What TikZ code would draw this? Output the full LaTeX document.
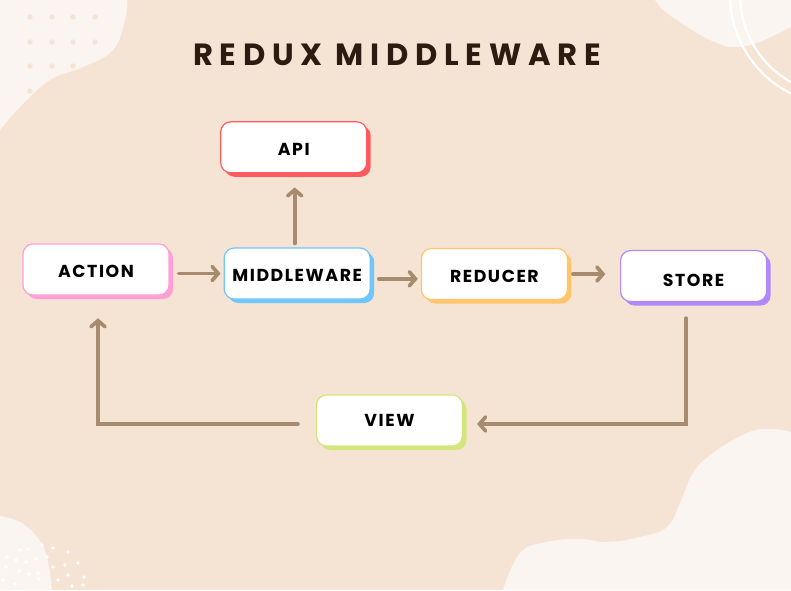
\documentclass[tikz,border=0pt]{standalone}
\usepackage{fontspec}
\newfontfamily\boxfont{Poppins}[LetterSpace=9]
\newfontfamily\headfont{Poppins}[LetterSpace=22]
\usetikzlibrary{shapes,arrows.meta,shadows,positioning}

\definecolor{sand}{HTML}{F5E4D4}
\definecolor{cream}{HTML}{FAF5F0}
\definecolor{cocoa}{HTML}{A68B6F}
\definecolor{ink}{HTML}{2B1B10}
\definecolor{apired}{HTML}{FF5A5F}
\definecolor{actpink}{HTML}{FF9FD6}
\definecolor{midblue}{HTML}{70C6FA}
\definecolor{redorange}{HTML}{FFC56B}
\definecolor{storepurple}{HTML}{B088F7}
\definecolor{viewlime}{HTML}{D3E67C}

\tikzset{
  box/.style={rectangle, rounded corners=7.5pt, draw=#1, fill=white, line width=0.9pt,
    minimum width=109.5pt, minimum height=38.25pt, inner sep=0pt,
    text height=12pt, text depth=0pt,
    drop shadow={shadow xshift=3pt, shadow yshift=-3pt, fill=#1, opacity=1},
    font=\boxfont\bfseries\fontsize{13}{15}\selectfont, text=black},
  flow/.style={draw=cocoa, line width=2.8pt, line cap=round,
    -{Straight Barb[length=4.5pt, width=10.5pt, line cap=round]}}
}

\begin{document}
\begin{tikzpicture}[x=0.75pt,y=-0.75pt,node distance=40pt]
\useasboundingbox (0,0) rectangle (791,590);
\fill[sand] (0,0) rectangle (791,590);

% background shapes
\fill[cream] plot[smooth, tension=0.7] coordinates {(127,0) (125,20) (113,50) (83,67) (50,80) (20,107) (0,130)} -- (0,0) -- cycle;
\foreach \x in {30,52,73,95}
  \foreach \y in {17,42,66,91}
    \fill[sand] (\x,\y) circle[radius=2pt];
\fill[cream] plot[smooth, tension=0.7] coordinates {(655,0) (667,13) (697,33) (717,43) (733,47) (757,43) (791,27)} -- (791,0) -- cycle;
\begin{scope}
\clip (0,0) rectangle (791,590);
\draw[white, line width=1.6pt] (840,-5) circle[radius=75pt];
\draw[white, line width=1.6pt] (840,-5) circle[radius=82.5pt];
\end{scope}
\fill[cream] plot[smooth, tension=0.7] coordinates {(0,516) (20,522) (37,537) (47,557) (52,590)} -- (0,590) -- cycle;
\foreach \p in {(20,550),(28,549),(42,545),(53,548),(68,552),(7,557),(16,560),(26,562),(36,559),(47,557),(6,567),(53,567),(65,565),(78,563),(19,571),(29,574),(38,573),(68,575),(84,577),(58,580),(3,580),(39,579),(15,584),(72,586),(83,585),(50,587)}
  \fill[white] \p circle[radius=1.4pt];
\fill[cream] plot[smooth, tension=0.7] coordinates {(503,590) (520,553) (547,542) (580,539) (607,542) (640,537) (667,527) (680,503) (693,473) (713,453) (747,433) (770,429) (791,432)} -- (791,590) -- cycle;

% title
\node[font=\headfont\bfseries\fontsize{23}{26}\selectfont, text=ink] (title) at (397,55) {REDUX MIDDLEWARE};

% boxes
\node[box=actpink] (action) at (96,269.5) {ACTION};
\node[box=midblue, right=40.5pt of action, yshift=-3pt] (middle) {MIDDLEWARE};
\node[box=redorange, right=37.5pt of middle, yshift=-0.4pt] (reducer) {REDUCER};
\node[box=storepurple, right=39pt of reducer, yshift=-1.5pt] (store) {\raisebox{-2pt}{STORE}};
\node[box=apired, above=55.5pt of middle, xshift=-2.6pt] (api) {API};
\node[box=viewlime] (view) at (389.5,420.5) {\raisebox{1.5pt}{VIEW}};

% arrows
\draw[flow, shorten <=6.75pt, shorten >=2.25pt] (action.east |- middle.west) -- (middle.west);
\draw[flow, shorten <=3pt, shorten >=10.5pt] ([xshift=-1.9pt]middle.north) -- ([xshift=-1.9pt]middle.north |- api.south);
\draw[flow, shorten <=6pt, shorten >=2.25pt] ([yshift=-4pt]middle.east) -- ([yshift=-4pt]middle.east -| reducer.west);
\draw[flow, shorten <=3.75pt, shorten >=11pt] (reducer.east) -- (reducer.east -| store.west);
\draw[flow, shorten <=12pt, shorten >=10.5pt] ([xshift=-5.6pt]store.south) |- ([yshift=-2.6pt]view.east);
\draw[flow, shorten <=13.5pt, shorten >=17pt] ([yshift=-2.6pt]view.west) -| ([xshift=1.5pt]action.south);
\end{tikzpicture}
\end{document}
